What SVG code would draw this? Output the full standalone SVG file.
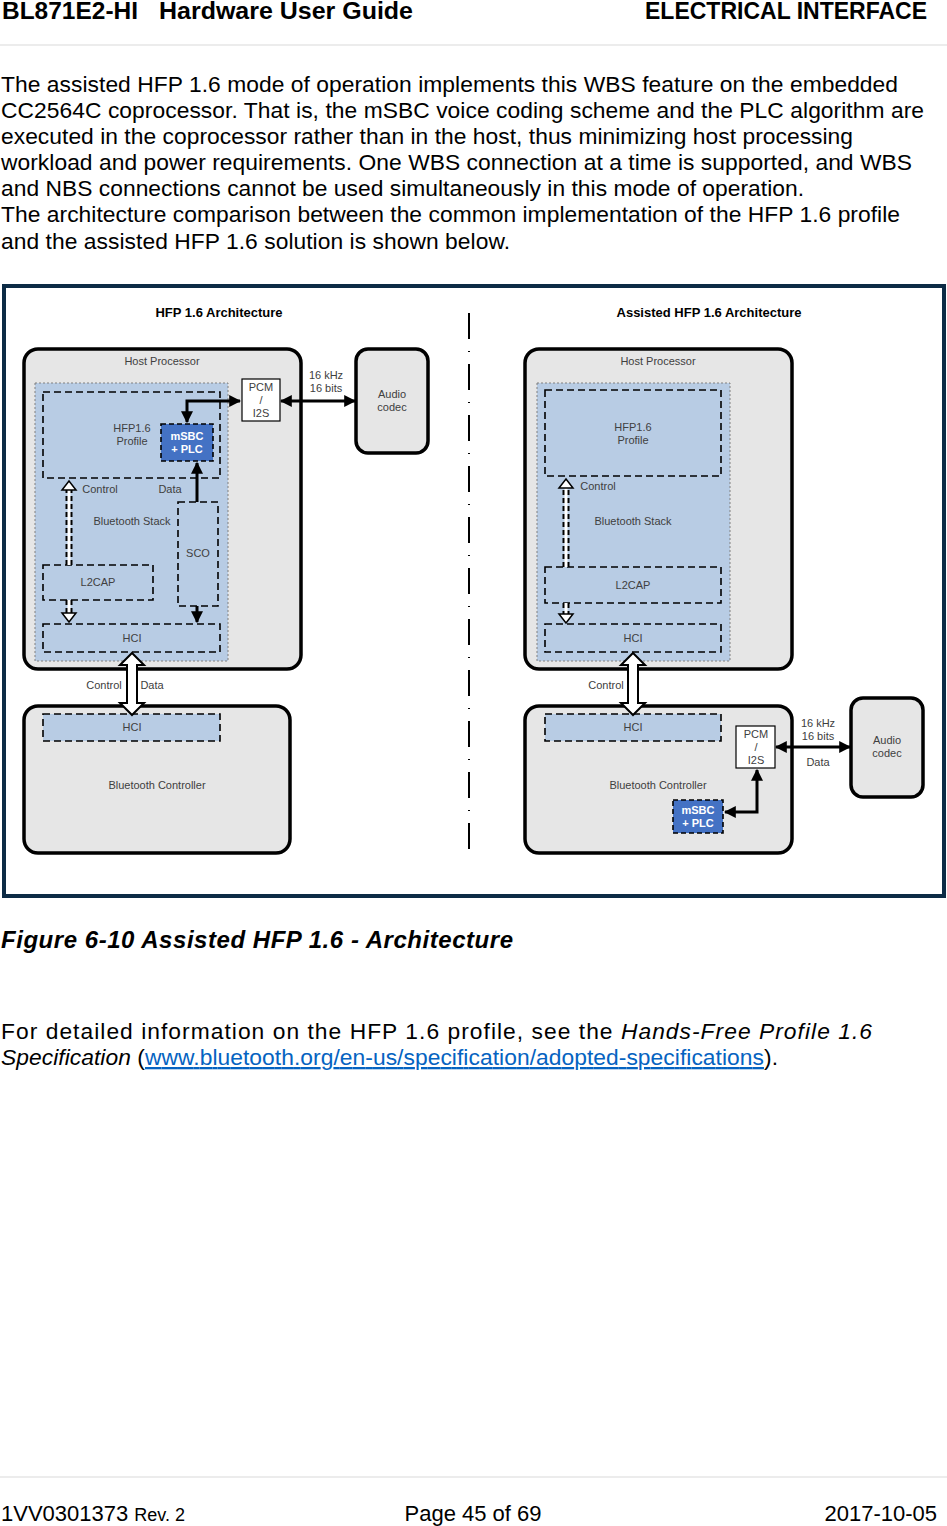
<svg xmlns="http://www.w3.org/2000/svg" width="947" height="1526" viewBox="0 0 947 1526">
<defs>
<marker id="ah" viewBox="0 0 10 10" refX="9" refY="5" markerWidth="4" markerHeight="4" orient="auto-start-reverse"><path d="M0 0L10 5L0 10z" fill="#000"/></marker>
<style>
text{font-family:"Liberation Sans",Arial,sans-serif}
.body{font-size:22.8px;fill:#000}
.s{font-size:11px;fill:#404040;text-anchor:middle}
.t{font-size:13px;font-weight:bold;fill:#000;text-anchor:middle}
.w{font-size:11px;font-weight:bold;fill:#fff;text-anchor:middle}
.outer{fill:#e6e6e6;stroke:#000;stroke-width:3.5}
.blue{fill:#b8cce4;stroke:#808080;stroke-width:1;stroke-dasharray:2 2}
.dash{fill:none;stroke:#000;stroke-width:1.6;stroke-dasharray:7 4}
.dashb{fill:#b8cce4;stroke:#000;stroke-width:1.6;stroke-dasharray:7 4}
.ms{fill:#4472c4;stroke:#000;stroke-width:1.6;stroke-dasharray:5 3}
.pcm{fill:#fff;stroke:#000;stroke-width:1.2}
.arr{fill:none;stroke:#000;stroke-width:3;marker-end:url(#ah)}
.arr2{fill:none;stroke:#000;stroke-width:3;marker-end:url(#ah);marker-start:url(#ah)}
.blk{fill:#fff;stroke:#000;stroke-width:2}
.dw{stroke:#000;stroke-width:7;stroke-dasharray:5 3;fill:none}
.dwi{stroke:#fff;stroke-width:3;fill:none}
.dwh{fill:#fff;stroke:#000;stroke-width:1.5}
</style>
</defs>
<rect width="947" height="1526" fill="#fff"/>
<text x="2" y="19" font-size="23" font-weight="bold" fill="#000" textLength="136" lengthAdjust="spacingAndGlyphs">BL871E2-HI</text>
<text x="159" y="19" font-size="23" font-weight="bold" fill="#000" textLength="254" lengthAdjust="spacingAndGlyphs">Hardware User Guide</text>
<text x="927" y="19" font-size="23" font-weight="bold" fill="#000" text-anchor="end">ELECTRICAL INTERFACE</text>
<line x1="0" y1="45" x2="947" y2="45" stroke="#d9d9d9"/>
<text class="body" x="1" y="92" textLength="897">The assisted HFP 1.6 mode of operation implements this WBS feature on the embedded</text>
<text class="body" x="1" y="118" textLength="923">CC2564C coprocessor. That is, the mSBC voice coding scheme and the PLC algorithm are</text>
<text class="body" x="1" y="144" textLength="852">executed in the coprocessor rather than in the host, thus minimizing host processing</text>
<text class="body" x="1" y="170" textLength="911">workload and power requirements. One WBS connection at a time is supported, and WBS</text>
<text class="body" x="1" y="196" textLength="803">and NBS connections cannot be used simultaneously in this mode of operation.</text>
<text class="body" x="1" y="222" textLength="899">The architecture comparison between the common implementation of the HFP 1.6 profile</text>
<text class="body" x="1" y="249" textLength="509">and the assisted HFP 1.6 solution is shown below.</text>

<rect x="4" y="286" width="940" height="610" fill="#fff" stroke="#0d2b45" stroke-width="4"/>
<text class="t" x="219" y="317">HFP 1.6 Architecture</text>
<text class="t" x="709" y="317">Assisted HFP 1.6 Architecture</text>
<line x1="469" y1="313" x2="469" y2="858" stroke="#000" stroke-width="2" stroke-dasharray="26 12 1 12"/>

<g id="left-host">
<rect class="outer" x="24" y="349" width="277" height="320" rx="14"/>
<text class="s" x="162" y="365">Host Processor</text>
<rect class="blue" x="35" y="383" width="193" height="278"/>
</g>
<g id="left-profile"><rect class="dash" x="43" y="392" width="177" height="86"/><text class="s" x="132" y="432">HFP1.6</text><text class="s" x="132" y="445">Profile</text></g>
<g id="left-msbc"><rect class="ms" x="161" y="424" width="52" height="37"/><text class="w" x="187" y="440">mSBC</text><text class="w" x="187" y="453">+ PLC</text></g>
<g id="left-pcm"><rect class="pcm" x="242" y="379" width="38" height="42"/><text class="s" x="261" y="391">PCM</text><text class="s" x="261" y="404">/</text><text class="s" x="261" y="417">I2S</text></g>
<g id="left-codec"><rect class="outer" x="356" y="349" width="72" height="104" rx="12"/><text class="s" x="392" y="398">Audio</text><text class="s" x="392" y="411">codec</text></g>
<g id="left-sco"><rect class="dash" x="178" y="502" width="40" height="104"/><text class="s" x="198" y="557">SCO</text></g>
<g id="left-l2cap"><rect class="dash" x="43" y="565" width="110" height="35"/><text class="s" x="98" y="586">L2CAP</text></g>
<g id="left-hci"><rect class="dash" x="43" y="624" width="177" height="28"/><text class="s" x="132" y="642">HCI</text></g>
<g id="left-ctrl"><rect class="outer" x="24" y="706" width="266" height="147" rx="14"/><rect class="dashb" x="43" y="714" width="177" height="27"/><text class="s" x="132" y="731">HCI</text><text class="s" x="157" y="789">Bluetooth Controller</text></g>
<text class="s" x="100" y="493">Control</text>
<text class="s" x="170" y="493">Data</text>
<text class="s" x="132" y="525">Bluetooth Stack</text>
<text class="s" x="104" y="689">Control</text>
<text class="s" x="152" y="689">Data</text>

<g id="right-host">
<rect class="outer" x="525" y="349" width="267" height="320" rx="14"/>
<text class="s" x="658" y="365">Host Processor</text>
<rect class="blue" x="537" y="383" width="193" height="278"/>
</g>
<g id="right-profile"><rect class="dash" x="545" y="390" width="176" height="86"/><text class="s" x="633" y="431">HFP1.6</text><text class="s" x="633" y="444">Profile</text></g>
<g id="right-l2cap"><rect class="dash" x="545" y="567" width="176" height="36"/><text class="s" x="633" y="589">L2CAP</text></g>
<g id="right-hci"><rect class="dash" x="545" y="624" width="176" height="28"/><text class="s" x="633" y="642">HCI</text></g>
<text class="s" x="598" y="490">Control</text>
<text class="s" x="633" y="525">Bluetooth Stack</text>
<text class="s" x="606" y="689">Control</text>
<g id="right-ctrl"><rect class="outer" x="525" y="706" width="267" height="147" rx="14"/><rect class="dashb" x="545" y="714" width="176" height="27"/><text class="s" x="633" y="731">HCI</text><text class="s" x="658" y="789">Bluetooth Controller</text></g>
<g id="right-pcm"><rect class="pcm" x="736" y="726" width="39" height="42"/><text class="s" x="756" y="738">PCM</text><text class="s" x="756" y="751">/</text><text class="s" x="756" y="764">I2S</text></g>
<g id="right-msbc"><rect class="ms" x="673" y="800" width="50" height="33"/><text class="w" x="698" y="814">mSBC</text><text class="w" x="698" y="827">+ PLC</text></g>
<g id="right-codec"><rect class="outer" x="851" y="698" width="72" height="99" rx="12"/><text class="s" x="887" y="744">Audio</text><text class="s" x="887" y="757">codec</text></g>

<text class="s" x="326" y="379">16 kHz</text>
<text class="s" x="326" y="392">16 bits</text>
<text class="s" x="818" y="727">16 kHz</text>
<text class="s" x="818" y="740">16 bits</text>
<text class="s" x="818" y="766" font-size="10">Data</text>

<g id="connectors">
<line class="arr2" x1="281" y1="401" x2="355" y2="401"/>
<path class="arr2" d="M240 401H187V422"/>
<line class="arr" x1="197" y1="502" x2="197" y2="463"/>
<line class="arr" x1="197" y1="606" x2="197" y2="622"/>
<line class="arr2" x1="776" y1="747" x2="850" y2="747"/>
<path class="arr2" d="M757 770V812H725"/>
<path class="dw" d="M69 565V489"/><path class="dwi" d="M69 565V489"/><path class="dwh" d="M62 490L69 481L76 490z"/>
<path class="dw" d="M69 600V613"/><path class="dwi" d="M69 600V613"/><path class="dwh" d="M62 613L69 622L76 613z"/>
<path class="dw" d="M566 567V487"/><path class="dwi" d="M566 567V487"/><path class="dwh" d="M559 488L566 479L573 488z"/>
<path class="dw" d="M566 603V614"/><path class="dwi" d="M566 603V614"/><path class="dwh" d="M559 614L566 623L573 614z"/>
<path class="blk" d="M132 653L144 665H137V703H144L132 715L120 703H127V665H120Z"/>
<path class="blk" d="M633 653L645 665H638V703H645L633 715L621 703H628V665H621Z"/>
</g>

<text x="1" y="948" font-size="24" font-weight="bold" font-style="italic" fill="#000" textLength="512">Figure 6-10 Assisted HFP 1.6 - Architecture</text>
<text class="body" x="1" y="1039" textLength="871">For  detailed  information  on  the  HFP  1.6  profile,  see  the  <tspan font-style="italic">Hands-Free  Profile  1.6</tspan></text>
<text class="body" x="1" y="1065" textLength="777"><tspan font-style="italic">Specification</tspan> (<tspan fill="#0563c1" text-decoration="underline">www.bluetooth.org/en-us/specification/adopted-specifications</tspan>).</text>
<line x1="0" y1="1477" x2="947" y2="1477" stroke="#d9d9d9"/>
<text x="1" y="1521" font-size="22" fill="#000">1VV0301373  <tspan font-size="18">Rev. 2</tspan></text>
<text x="473" y="1521" font-size="22" fill="#000" text-anchor="middle">Page 45 of 69</text>
<text x="937" y="1521" font-size="22" fill="#000" text-anchor="end">2017-10-05</text>
</svg>
